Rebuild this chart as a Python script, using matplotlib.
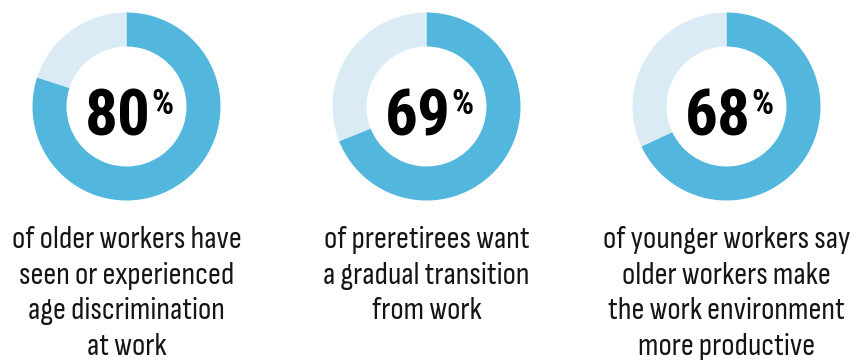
import matplotlib.pyplot as plt

percents = [80, 69, 68]
captions = [
    ["of older workers have", "seen or experienced", "age discrimination", "at work"],
    ["of preretirees want", "a gradual transition", "from work"],
    ["of younger workers say", "older workers make", "the work environment", "more productive"],
]

BLUE = "#52b6dd"
LIGHT = "#daebf5"
NUM_FONT = "Roboto Condensed"
CAP_FONT = "Sofia Sans Condensed"

W, H = 863, 360
fig = plt.figure(figsize=(W / 100, H / 100), dpi=100)
ax = fig.add_axes([0, 0, 1, 1])

centers_x = [126.5, 426.5, 726.5]
cy = H - 106.5
for cx, p, lines in zip(centers_x, percents, captions):
    ax.pie([p, 100 - p], colors=[BLUE, LIGHT], startangle=90, counterclock=False,
           center=(cx, cy), radius=94, wedgeprops=dict(width=34, linewidth=0))
    # big number, baseline ~135 px from top
    ax.text(cx + 24, H - 135, str(p), ha="right", va="baseline", fontsize=47,
            fontweight="bold", family=NUM_FONT, color="black")
    ax.text(cx + 25, H - 88, "%", ha="left", va="top", fontsize=25,
            fontweight="bold", family=NUM_FONT, color="black")
    for i, line in enumerate(lines):
        ax.text(cx, H - (248 + 35.7 * i), line, ha="center", va="baseline",
                fontsize=23, family=CAP_FONT, color="#151515")

ax.set_xlim(0, W)
ax.set_ylim(0, H)
ax.set_aspect("equal")
ax.axis("off")

fig.savefig("out.png", dpi=100)
